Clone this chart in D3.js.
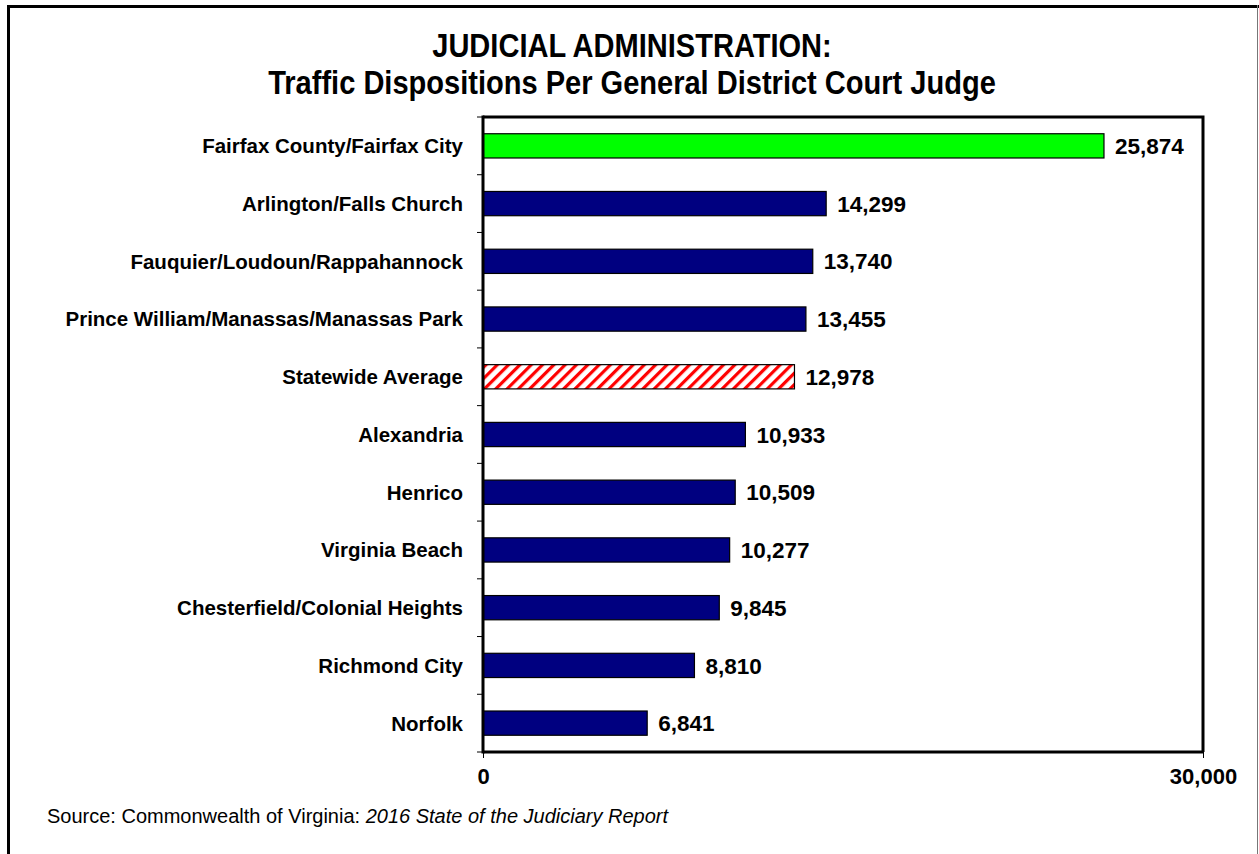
<!DOCTYPE html>
<html>
<head>
<meta charset="utf-8">
<script src="https://cdn.jsdelivr.net/npm/d3@7"></script>
<style>
  body { margin: 0; background: #fff; }
  svg { display: block; }
</style>
</head>
<body>
<div id="chart"></div>
<script>
var categories = ["Fairfax County/Fairfax City", "Arlington/Falls Church", "Fauquier/Loudoun/Rappahannock",
  "Prince William/Manassas/Manassas Park", "Statewide Average", "Alexandria", "Henrico",
  "Virginia Beach", "Chesterfield/Colonial Heights", "Richmond City", "Norfolk"];
var values = [25874, 14299, 13740, 13455, 12978, 10933, 10509, 10277, 9845, 8810, 6841];
var kinds = ["fairfax", "other", "other", "other", "average", "other", "other", "other", "other", "other", "other"];
var xTicks = [0, 30000];

var W = 1259, H = 854;
var margin = {top: 117, right: 55, bottom: 102, left: 483};

var svg = d3.select("#chart").append("svg")
    .attr("width", W)
    .attr("height", H);

// hatch for the statewide average
var defs = svg.append("defs");
var pat = defs.append("pattern")
    .attr("id", "hatch")
    .attr("patternUnits", "userSpaceOnUse")
    .attr("width", 8).attr("height", 8)
    .attr("patternTransform", "rotate(45)");
pat.append("rect").attr("width", 8).attr("height", 8).attr("fill", "#fff");
pat.append("rect").attr("x", 0).attr("width", 3.2).attr("height", 8).attr("fill", "#ff0000");

// outer frame
svg.append("line").attr("x1", 7).attr("x2", W).attr("y1", 6.5).attr("y2", 6.5)
    .attr("stroke", "#000").attr("stroke-width", 3);
svg.append("line").attr("x1", 8.5).attr("x2", 8.5).attr("y1", 5).attr("y2", H)
    .attr("stroke", "#000").attr("stroke-width", 3);
svg.append("line").attr("x1", 1257.5).attr("x2", 1257.5).attr("y1", 5).attr("y2", H)
    .attr("stroke", "#777").attr("stroke-width", 1);

// title (squeezed to look like a condensed face)
var title = svg.append("text")
    .attr("transform", "translate(632,0) scale(0.88,1)")
    .attr("text-anchor", "middle")
    .attr("font-family", "'Liberation Sans', Arial, sans-serif")
    .attr("font-weight", "bold")
    .attr("font-size", 33)
    .attr("fill", "#000");
title.append("tspan").attr("x", 0).attr("y", 57).text("JUDICIAL ADMINISTRATION:");
title.append("tspan").attr("x", 0).attr("y", 94).text("Traffic Dispositions Per General District Court Judge");

var x = d3.scaleLinear()
    .domain([0, 30000])
    .range([margin.left, W - margin.right - 1]);

var y = d3.scaleBand()
    .domain(categories)
    .range([margin.top, H - margin.bottom])
    .paddingInner(0.58)
    .paddingOuter(0.29);

var x0 = x(0), x1 = x(30000), yTop = margin.top, yBot = H - margin.bottom;

// plot frame top and right
svg.append("path")
    .attr("d", "M" + x0 + "," + yTop + "H" + x1 + "V" + yBot)
    .attr("fill", "none").attr("stroke", "#000").attr("stroke-width", 3);

// bars
svg.selectAll(".bar")
    .data(values)
    .enter()
    .append("rect")
    .attr("class", "bar")
    .attr("x", x0)
    .attr("y", function(d, i) { return y(categories[i]); })
    .attr("width", function(d) { return x(d) - x0; })
    .attr("height", y.bandwidth())
    .attr("fill", function(d, i) {
        if (kinds[i] == "fairfax") return "#00ff00";
        if (kinds[i] == "average") return "url(#hatch)";
        return "#000080";
    })
    .attr("stroke", "#000")
    .attr("stroke-width", 1.2);

// value labels
svg.selectAll(".val")
    .data(values)
    .enter()
    .append("text")
    .attr("class", "val")
    .attr("x", function(d) { return x(d) + 11; })
    .attr("y", function(d, i) { return y(categories[i]) + y.bandwidth() / 2; })
    .attr("dy", "0.36em")
    .attr("font-family", "'Liberation Sans', Arial, sans-serif")
    .attr("font-weight", "bold")
    .attr("font-size", 22.5)
    .text(d3.format(","));

// category labels
svg.selectAll(".cat")
    .data(categories)
    .enter()
    .append("text")
    .attr("class", "cat")
    .attr("x", 463)
    .attr("y", function(d) { return y(d) + y.bandwidth() / 2; })
    .attr("dy", "0.36em")
    .attr("text-anchor", "end")
    .attr("font-family", "'Liberation Sans', Arial, sans-serif")
    .attr("font-weight", "bold")
    .attr("font-size", 20.5)
    .text(function(d) { return d; });

// left axis: ticks between categories
var bounds = d3.range(categories.length + 1).map(function(i) { return yTop + i * y.step(); });
svg.selectAll(".ytick")
    .data(bounds)
    .enter()
    .append("line")
    .attr("x1", x0 - 6).attr("x2", x0)
    .attr("y1", function(d) { return d; }).attr("y2", function(d) { return d; })
    .attr("stroke", "#000").attr("stroke-width", 1);
svg.append("line")
    .attr("x1", x0).attr("x2", x0).attr("y1", yTop - 1.5).attr("y2", yBot + 1.5)
    .attr("stroke", "#000").attr("stroke-width", 3);

// bottom axis
var xAxis = d3.axisBottom(x)
    .tickValues(xTicks)
    .tickSize(6)
    .tickPadding(10)
    .tickFormat(d3.format(","));
var gx = svg.append("g")
    .attr("transform", "translate(0," + yBot + ")")
    .call(xAxis);
gx.select(".domain").attr("stroke-width", 3).attr("d", "M" + x0 + ",0H" + x1);
gx.selectAll(".tick line").attr("stroke-width", 1);
gx.selectAll(".tick text")
    .attr("font-family", "'Liberation Sans', Arial, sans-serif")
    .attr("font-weight", "bold")
    .attr("font-size", 22)
    .attr("fill", "#000");

// source note
var src = svg.append("text")
    .attr("x", 47).attr("y", 823)
    .attr("font-family", "'Liberation Sans', Arial, sans-serif")
    .attr("font-size", 20)
    .attr("fill", "#000");
src.append("tspan").text("Source: Commonwealth of Virginia: ");
src.append("tspan").attr("font-style", "italic").text("2016 State of the Judiciary Report");
</script>
</body>
</html>
